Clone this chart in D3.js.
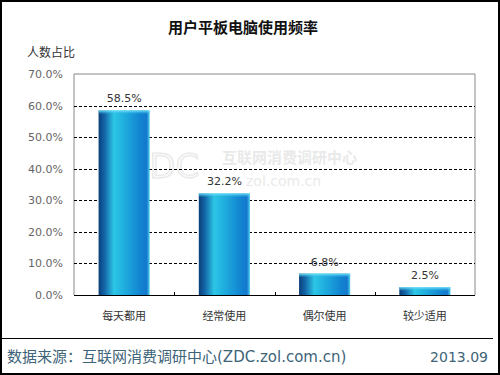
<!DOCTYPE html>
<meta charset="utf-8">
<style>
body { margin: 0; background: #fff; }
svg { display: block; }
text { font-family: "DejaVu Sans", "Noto Sans CJK SC", sans-serif; }
</style>
<body>
<script src="https://cdn.jsdelivr.net/npm/d3@7"></script>
<script>

var categories = ["每天都用", "经常使用", "偶尔使用", "较少适用"];
var values = [58.5, 32.2, 6.8, 2.5];
var yTicks = [0, 10, 20, 30, 40, 50, 60, 70];
var title = "用户平板电脑使用频率";
var yTitle = "人数占比";
var source = "数据来源：互联网消费调研中心(ZDC.zol.com.cn)";
var dateLabel = "2013.09";

var width = 500, height = 375;
var m = {left: 74, top: 74, right: 475, bottom: 295};

var svg = d3.select("body").append("svg")
    .attr("width", width)
    .attr("height", height);

var defs = svg.append("defs");
var grad = defs.append("linearGradient").attr("id", "barGrad")
    .attr("x1", 0).attr("x2", 1).attr("y1", 0).attr("y2", 0);
grad.append("stop").attr("offset", "0%").attr("stop-color", "#0b3f7a");
grad.append("stop").attr("offset", "12%").attr("stop-color", "#1466a8");
grad.append("stop").attr("offset", "30%").attr("stop-color", "#2cc6e6");
grad.append("stop").attr("offset", "45%").attr("stop-color", "#22b4e0");
grad.append("stop").attr("offset", "80%").attr("stop-color", "#1286d2");
grad.append("stop").attr("offset", "94%").attr("stop-color", "#1478cc");
grad.append("stop").attr("offset", "100%").attr("stop-color", "#4fd0f0");

var capGrad = defs.append("linearGradient").attr("id", "capGrad")
    .attr("x1", 0).attr("x2", 0).attr("y1", 0).attr("y2", 1);
capGrad.append("stop").attr("offset", "0%").attr("stop-color", "#7fe6fa");
capGrad.append("stop").attr("offset", "100%").attr("stop-color", "#25b8e6").attr("stop-opacity", 0);

// outer frame
svg.append("rect").attr("x", 1).attr("y", 1).attr("width", width - 2).attr("height", height - 2)
    .attr("fill", "none").attr("stroke", "#000").attr("stroke-width", 2);

var x = d3.scaleBand().domain(categories).range([m.left, m.right]).paddingInner(0.49).paddingOuter(0.245);
var band = d3.scaleBand().domain(categories).range([m.left, m.right]);
var y = d3.scaleLinear().domain([0, 70]).range([m.bottom, m.top]);

svg.append("text").attr("x", 243).attr("y", 33).attr("text-anchor", "middle")
    .attr("font-size", 15).attr("font-weight", "bold").attr("fill", "#111")
    .text(title);
svg.append("text").attr("x", 27).attr("y", 57)
    .attr("font-size", 12).attr("fill", "#333").text(yTitle);

// watermark
var wm = svg.append("g").attr("opacity", 0.45);
wm.append("text").attr("x", 126).attr("y", 178).attr("font-size", 34)
    .attr("font-family", "DejaVu Serif").attr("stroke", "#c8c8c8").attr("stroke-width", 1)
    .attr("fill", "#f2f2f2").text("ZDC");
wm.append("text").attr("x", 222).attr("y", 163).attr("font-size", 15).attr("fill", "#d0d0d0")
    .attr("font-weight", "bold").text("互联网消费调研中心");
wm.append("text").attr("x", 246).attr("y", 186).attr("font-size", 14).attr("fill", "#d0d0d0")
    .attr("font-family", "DejaVu Serif").text("zol.com.cn");

// plot border
svg.append("path")
    .attr("d", "M" + m.left + "," + m.bottom + "V" + m.top + "H" + m.right + "V" + m.bottom)
    .attr("fill", "none").attr("stroke", "#888").attr("stroke-width", 1);

// gridlines
svg.append("g").selectAll("line").data(yTicks.filter(function(d){ return d > 0 && d < 70; }))
  .enter().append("line")
    .attr("x1", m.left).attr("x2", m.right)
    .attr("y1", function(d){ return Math.round(y(d)) + 0.5; })
    .attr("y2", function(d){ return Math.round(y(d)) + 0.5; })
    .attr("stroke", "#000").attr("stroke-dasharray", "3,2");

// y axis labels
var yAxis = d3.axisLeft(y).tickValues(yTicks).tickSize(0).tickPadding(11)
    .tickFormat(function(d){ return d.toFixed(1) + "%"; });
var gy = svg.append("g").attr("transform", "translate(" + m.left + ",0)").call(yAxis);
gy.select(".domain").remove();
gy.selectAll("text").attr("font-size", 11).attr("fill", "#666")
    .attr("font-family", "DejaVu Sans");

// bars
var bars = svg.append("g").selectAll("g").data(values).enter().append("g");
bars.append("rect")
    .attr("x", function(d, i){ return x(categories[i]); })
    .attr("y", function(d){ return y(d); })
    .attr("width", x.bandwidth())
    .attr("height", function(d){ return y(0) - y(d); })
    .attr("fill", "url(#barGrad)");
bars.append("rect")
    .attr("x", function(d, i){ return x(categories[i]); })
    .attr("y", function(d){ return y(d); })
    .attr("width", x.bandwidth())
    .attr("height", function(d){ return Math.min(4, y(0) - y(d)); })
    .attr("fill", "url(#capGrad)");
bars.append("text")
    .attr("x", function(d, i){ return x(categories[i]) + x.bandwidth() / 2; })
    .attr("y", function(d){ return y(d) - 8; })
    .attr("text-anchor", "middle").attr("font-size", 11).attr("fill", "#333")
    .text(function(d){ return d.toFixed(1) + "%"; });

// x axis
svg.append("line").attr("x1", m.left).attr("x2", m.right)
    .attr("y1", m.bottom + 0.5).attr("y2", m.bottom + 0.5).attr("stroke", "#000");
svg.append("g").selectAll("line").data(categories.slice(1)).enter().append("line")
    .attr("x1", function(d){ return Math.round(band(d)) + 0.5; })
    .attr("x2", function(d){ return Math.round(band(d)) + 0.5; })
    .attr("y1", m.bottom).attr("y2", m.bottom - 3).attr("stroke", "#000");
svg.append("g").selectAll("text").data(categories).enter().append("text")
    .attr("x", function(d){ return band(d) + band.bandwidth() / 2; })
    .attr("y", 320).attr("text-anchor", "middle")
    .attr("font-size", 11).attr("fill", "#333")
    .text(function(d){ return d; });

// footer
svg.append("line").attr("x1", 1).attr("x2", 493).attr("y1", 338.5).attr("y2", 338.5)
    .attr("stroke", "#000");
svg.append("text").attr("x", 7).attr("y", 362).attr("font-size", 15).attr("fill", "#3d6478")
    .text(source);
svg.append("text").attr("x", 488).attr("y", 362).attr("text-anchor", "end")
    .attr("font-size", 14).attr("fill", "#3d6478").text(dateLabel);

</script>
